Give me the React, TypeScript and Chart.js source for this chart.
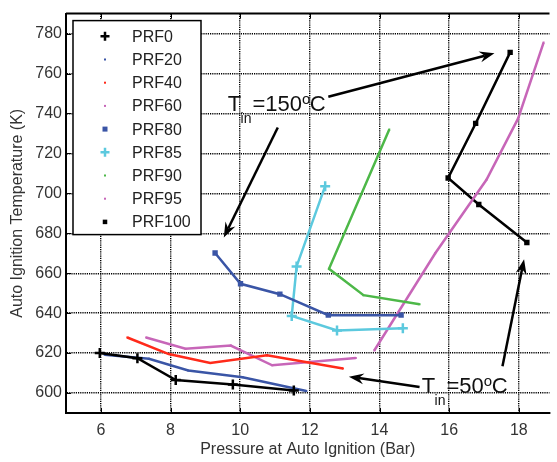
import React, { useEffect, useRef } from "react";
import { Chart, registerables } from "chart.js";

Chart.register(...registerables);

// ---------- data ----------
const seriesNames = ["PRF0", "PRF20", "PRF40", "PRF60", "PRF80", "PRF85", "PRF90", "PRF95", "PRF100"];

const prf0X = [5.97, 7.05, 8.15, 9.79, 11.54];
const prf0Y = [620, 617.4, 606.5, 604.3, 601.3];

const prf20X = [6.11, 7.38, 8.51, 10.07, 11.9];
const prf20Y = [619.2, 617.2, 611.3, 607.9, 601];

const prf40X = [6.76, 7.95, 9.14, 10.77, 12.95];
const prf40Y = [627.8, 619.5, 615, 618.9, 612.3];

const prf60X = [7.3, 8.43, 9.73, 10.92, 13.32];
const prf60Y = [627.8, 622.2, 623.8, 613.9, 617.5];

const prf80X = [9.28, 10.01, 11.14, 12.53, 14.62];
const prf80Y = [670.1, 654.7, 649.5, 639, 639];

const prf85X = [12.44, 11.62, 11.48, 12.78, 14.67];
const prf85Y = [703.6, 663.4, 638.6, 631.3, 632.4];

const prf90X = [14.28, 12.55, 13.54, 15.15];
const prf90Y = [732, 662.2, 649, 644.5];

const prf95X = [13.85, 15.6, 17.07, 17.98, 18.71];
const prf95Y = [621.3, 670, 706.8, 737.5, 775.5];

const prf100X = [17.75, 16.76, 15.97, 16.85, 18.23];
const prf100Y = [770.6, 735, 707.7, 694.4, 675.4];

const xTicks = [6, 8, 10, 12, 14, 16, 18];
const yTicks = [600, 620, 640, 660, 680, 700, 720, 740, 760, 780];

// annotation anchors (data units): [textX, textY, label]
const tinLabels: [number, number, string][] = [
  [9.64, 741.4, "150"],
  [15.21, 600.2, "50"],
];
// arrows (data units): [fromX, fromY, toX, toY]
const arrows: [number, number, number, number][] = [
  [12.53, 748.4, 17.3, 770.2],
  [11.08, 733, 9.53, 677.9],
  [15.15, 603, 13.12, 608.2],
  [17.53, 613.4, 18.15, 667],
];

// ---------- styles ----------
const BLUE = "#3a55a6";
const colors = ["#000000", BLUE, "#ff2a1a", "#c766b8", BLUE, "#5cc9de", "#4db848", "#c766b8", "#000000"];
const markers = ["cross", "dot", "dot", "dot", "square", "cross", "dot", "dot", "square"];
const FONT = "'Liberation Sans', Arial, sans-serif";

const allX = [prf0X, prf20X, prf40X, prf60X, prf80X, prf85X, prf90X, prf95X, prf100X];
const allY = [prf0Y, prf20Y, prf40Y, prf60Y, prf80Y, prf85Y, prf90Y, prf95Y, prf100Y];

function pointStyleFor(m: string) {
  if (m === "cross") return { pointStyle: "cross", pointRadius: 5, pointBorderWidth: 2.5 };
  if (m === "square") return { pointStyle: "rect", pointRadius: 3.8, pointBorderWidth: 0 };
  return { pointStyle: "rect", pointRadius: 1.4, pointBorderWidth: 0 };
}

function drawArrow(ctx: CanvasRenderingContext2D, x0: number, y0: number, x1: number, y1: number) {
  const ang = Math.atan2(y1 - y0, x1 - x0);
  const L = 15, W = 5.5, N = 10;
  ctx.beginPath();
  ctx.moveTo(x0, y0);
  ctx.lineTo(x1 - Math.cos(ang) * N, y1 - Math.sin(ang) * N);
  ctx.stroke();
  const c = Math.cos(ang), s = Math.sin(ang);
  ctx.beginPath();
  ctx.moveTo(x1, y1);
  ctx.lineTo(x1 - c * L - s * W, y1 - s * L + c * W);
  ctx.lineTo(x1 - c * N, y1 - s * N);
  ctx.lineTo(x1 - c * L + s * W, y1 - s * L - c * W);
  ctx.closePath();
  ctx.fill();
}

function drawTin(ctx: CanvasRenderingContext2D, x: number, y: number, val: string) {
  ctx.textBaseline = "alphabetic";
  ctx.textAlign = "left";
  ctx.font = `22px ${FONT}`;
  ctx.fillText("T", x, y);
  let cx = x + ctx.measureText("T").width - 0.5;
  ctx.font = `14px ${FONT}`;
  ctx.fillText("in", cx, y + 12);
  cx += ctx.measureText("in").width + 1;
  ctx.font = `22px ${FONT}`;
  ctx.fillText("=" + val, cx, y);
  cx += ctx.measureText("=" + val).width;
  ctx.font = `15px ${FONT}`;
  ctx.fillText("o", cx, y - 7);
  cx += ctx.measureText("o").width - 0.5;
  ctx.font = `22px ${FONT}`;
  ctx.fillText("C", cx, y);
}

const overlayPlugin = {
  id: "overlay",
  afterDraw(chart: any) {
    const { ctx, chartArea: a, scales } = chart;
    const xs = scales.x, ys = scales.y;
    ctx.save();
    // top border
    ctx.strokeStyle = "#000";
    ctx.lineWidth = 2;
    ctx.beginPath();
    ctx.moveTo(a.left, a.top);
    ctx.lineTo(a.right, a.top);
    ctx.stroke();
    // inward tick marks
    ctx.lineWidth = 1;
    ctx.beginPath();
    xTicks.forEach((v) => {
      const px = Math.round(xs.getPixelForValue(v)) + 0.5;
      ctx.moveTo(px, a.top);
      ctx.lineTo(px, a.top + 5);
      ctx.moveTo(px, a.bottom);
      ctx.lineTo(px, a.bottom - 5);
    });
    yTicks.forEach((v) => {
      const py = Math.round(ys.getPixelForValue(v)) + 0.5;
      ctx.moveTo(a.left, py);
      ctx.lineTo(a.left + 5, py);
    });
    ctx.stroke();

    // annotations
    ctx.fillStyle = "#000";
    ctx.strokeStyle = "#000";
    ctx.lineWidth = 2.5;
    ctx.lineCap = "butt";
    arrows.forEach(([fx, fy, tx, ty]) => {
      drawArrow(ctx, xs.getPixelForValue(fx), ys.getPixelForValue(fy), xs.getPixelForValue(tx), ys.getPixelForValue(ty));
    });
    ctx.fillStyle = "#111";
    tinLabels.forEach(([tx, ty, v]) => {
      drawTin(ctx, xs.getPixelForValue(tx), ys.getPixelForValue(ty), v);
    });

    // legend
    const lx = a.left + 7, ly = a.top + 7, lw = 128, lh = 214;
    ctx.fillStyle = "#fff";
    ctx.fillRect(lx, ly, lw, lh);
    ctx.strokeStyle = "#000";
    ctx.lineWidth = 1.5;
    ctx.strokeRect(lx, ly, lw, lh);
    const rowH = 23.2;
    seriesNames.forEach((name, i) => {
      const cy = ly + 15.7 + i * rowH;
      const mx = lx + 32;
      const col = colors[i];
      const m = markers[i];
      ctx.fillStyle = col;
      ctx.strokeStyle = col;
      if (m === "cross") {
        ctx.lineWidth = 2.5;
        ctx.beginPath();
        ctx.moveTo(mx - 4.5, cy);
        ctx.lineTo(mx + 4.5, cy);
        ctx.moveTo(mx, cy - 4.5);
        ctx.lineTo(mx, cy + 4.5);
        ctx.stroke();
      } else if (m === "square") {
        const s = i === 4 ? 5 : 4.5;
        ctx.fillRect(mx - s / 2, cy - s / 2, s, s);
      } else {
        ctx.fillRect(mx - 1, cy - 1, 2, 2);
      }
      ctx.fillStyle = "#222";
      ctx.font = `16px ${FONT}`;
      ctx.textAlign = "left";
      ctx.textBaseline = "middle";
      ctx.fillText(name, lx + 59, cy + 1);
    });
    ctx.restore();
  },
};

export default function App() {
  const ref = useRef<HTMLCanvasElement | null>(null);

  useEffect(() => {
    if (!ref.current) return;
    const datasets = seriesNames.map((name, i) => ({
      label: name,
      data: allX[i].map((x, j) => ({ x, y: allY[i][j] })),
      borderColor: colors[i],
      backgroundColor: colors[i],
      pointBackgroundColor: colors[i],
      pointBorderColor: colors[i],
      borderWidth: 2.5,
      tension: 0,
      showLine: true,
      ...pointStyleFor(markers[i]),
    }));

    const chart = new Chart(ref.current, {
      type: "line",
      data: { datasets } as any,
      options: {
        animation: false,
        responsive: false,
        maintainAspectRatio: false,
        layout: { padding: { top: 10, right: 0, left: 0, bottom: 0 } },
        plugins: { legend: { display: false }, tooltip: { enabled: false } },
        scales: {
          x: {
            type: "linear",
            min: 5,
            max: 18.88,
            afterBuildTicks: (s: any) => {
              s.ticks = xTicks.map((v) => ({ value: v }));
            },
            afterFit: (s: any) => {
              s.height = 49;
            },
            grid: { color: "#000", lineWidth: 1.4, drawTicks: false },
            border: { display: true, color: "#000", width: 2, dash: [1.2, 1] },
            ticks: {
              color: "#333",
              font: { family: FONT, size: 16 },
              padding: 8,
              autoSkip: false,
              maxRotation: 0,
            },
            title: {
              display: true,
              text: "Pressure at Auto Ignition (Bar)",
              color: "#333",
              font: { family: FONT, size: 16 },
              padding: { top: 0, bottom: 3 },
            },
          },
          y: {
            type: "linear",
            min: 590,
            max: 790,
            afterBuildTicks: (s: any) => {
              s.ticks = yTicks.map((v) => ({ value: v }));
            },
            afterFit: (s: any) => {
              s.width = 66;
            },
            grid: { color: "#000", lineWidth: 1.4, drawTicks: false },
            border: { display: true, color: "#000", width: 2, dash: [1.2, 1] },
            ticks: {
              color: "#333",
              font: { family: FONT, size: 16 },
              padding: 4,
              autoSkip: false,
            },
            title: {
              display: true,
              text: "Auto Ignition Temperature (K)",
              color: "#333",
              font: { family: FONT, size: 16 },
              padding: { top: 8, bottom: 0 },
            },
          },
        },
      } as any,
      plugins: [overlayPlugin],
    });
    return () => chart.destroy();
  }, []);

  return (
    <div style={{ position: "absolute", left: 0, top: 0, width: 557, height: 462, background: "#fff" }}>
      <canvas ref={ref} width={557} height={462} style={{ width: 557, height: 462, display: "block" }} />
    </div>
  );
}
